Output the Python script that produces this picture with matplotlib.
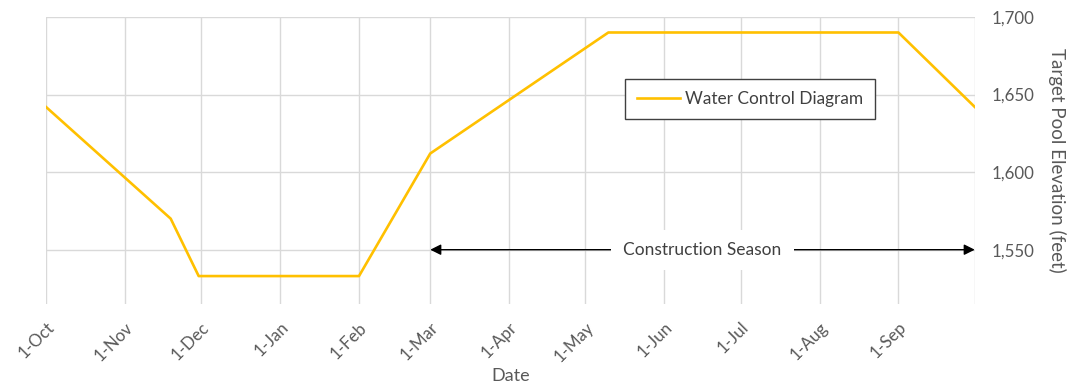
import datetime as dt

import matplotlib
matplotlib.use("Agg")
import matplotlib.pyplot as plt

# Target pool elevation through the water year
dates = ["2018-10-01", "2018-11-19", "2018-11-30", "2019-02-01",
         "2019-03-01", "2019-05-10", "2019-09-01", "2019-10-01"]
elevation = [1642, 1570, 1533, 1533, 1612, 1690, 1690, 1642]

month_ticks = ["2018-10-01", "2018-11-01", "2018-12-01", "2019-01-01",
               "2019-02-01", "2019-03-01", "2019-04-01", "2019-05-01",
               "2019-06-01", "2019-07-01", "2019-08-01", "2019-09-01",
               "2019-10-01"]
month_labels = ["1-Oct", "1-Nov", "1-Dec", "1-Jan", "1-Feb", "1-Mar",
                "1-Apr", "1-May", "1-Jun", "1-Jul", "1-Aug", "1-Sep", ""]

elev_ticks = [1550, 1600, 1650, 1700]
elev_min = 1515

season_start = "2019-03-01"
season_end = "2019-10-01"
season_level = 1550


def d(s):
    return dt.datetime.strptime(s, "%Y-%m-%d")


plt.rcParams["font.family"] = ["Lato", "DejaVu Sans"]
TXT = "#595959"
GRID = "#d9d9d9"

fig = plt.figure(figsize=(10.7, 3.85), dpi=100)
ax = fig.add_axes([0.043, 0.2104, 0.868, 0.7455])

x = [d(s) for s in dates]
ax.plot(x, elevation, color="#ffc000", lw=1.9, zorder=3,
        label="Water Control Diagram")

ax.set_xlim(d(month_ticks[0]), d(month_ticks[-1]))
ax.set_ylim(elev_min, elev_ticks[-1])
ax.set_xticks([d(s) for s in month_ticks])
ax.set_xticklabels(month_labels, rotation=45, ha="right",
                   rotation_mode="anchor")
ax.set_yticks(elev_ticks)
ax.yaxis.set_major_formatter(plt.FuncFormatter(lambda v, p: f"{v:,.0f}"))
ax.yaxis.tick_right()
ax.yaxis.set_label_position("right")
ax.tick_params(axis="both", length=0, labelsize=12.2, colors=TXT)
ax.tick_params(axis="y", pad=12)
ax.tick_params(axis="x", pad=11)
ax.grid(True, color=GRID, lw=1)
ax.set_axisbelow(True)
for sp in ax.spines.values():
    sp.set_visible(False)

ax.set_xlabel("Date", fontsize=13, color=TXT, labelpad=2)
ax.set_ylabel("Target Pool Elevation (feet)", fontsize=13.5, color=TXT,
              rotation=270, labelpad=23)

# construction season span
s0, s1 = d(season_start), d(season_end)
ax.annotate("", xy=(s0, season_level), xytext=(s1, season_level),
            arrowprops=dict(arrowstyle="<|-|>", color="black", lw=1,
                            mutation_scale=16, shrinkA=0, shrinkB=0),
            zorder=4)
mid = s0 + (s1 - s0) / 2
ax.text(mid, season_level, "Construction Season", ha="center", va="center",
        fontsize=12.5, color="#404040", zorder=5,
        bbox=dict(boxstyle="square,pad=0.7", fc="white", ec="none"))

leg = ax.legend(loc="upper left", bbox_to_anchor=(0.623, 0.784),
                borderaxespad=0, fancybox=False, fontsize=12.4,
                handlelength=2.5, handletextpad=0.3, borderpad=0.7,
                framealpha=1)
leg.get_frame().set_edgecolor("#404040")
leg.get_frame().set_linewidth(1)
for t in leg.get_texts():
    t.set_color("#404040")

fig.savefig("out.png", dpi=100)
